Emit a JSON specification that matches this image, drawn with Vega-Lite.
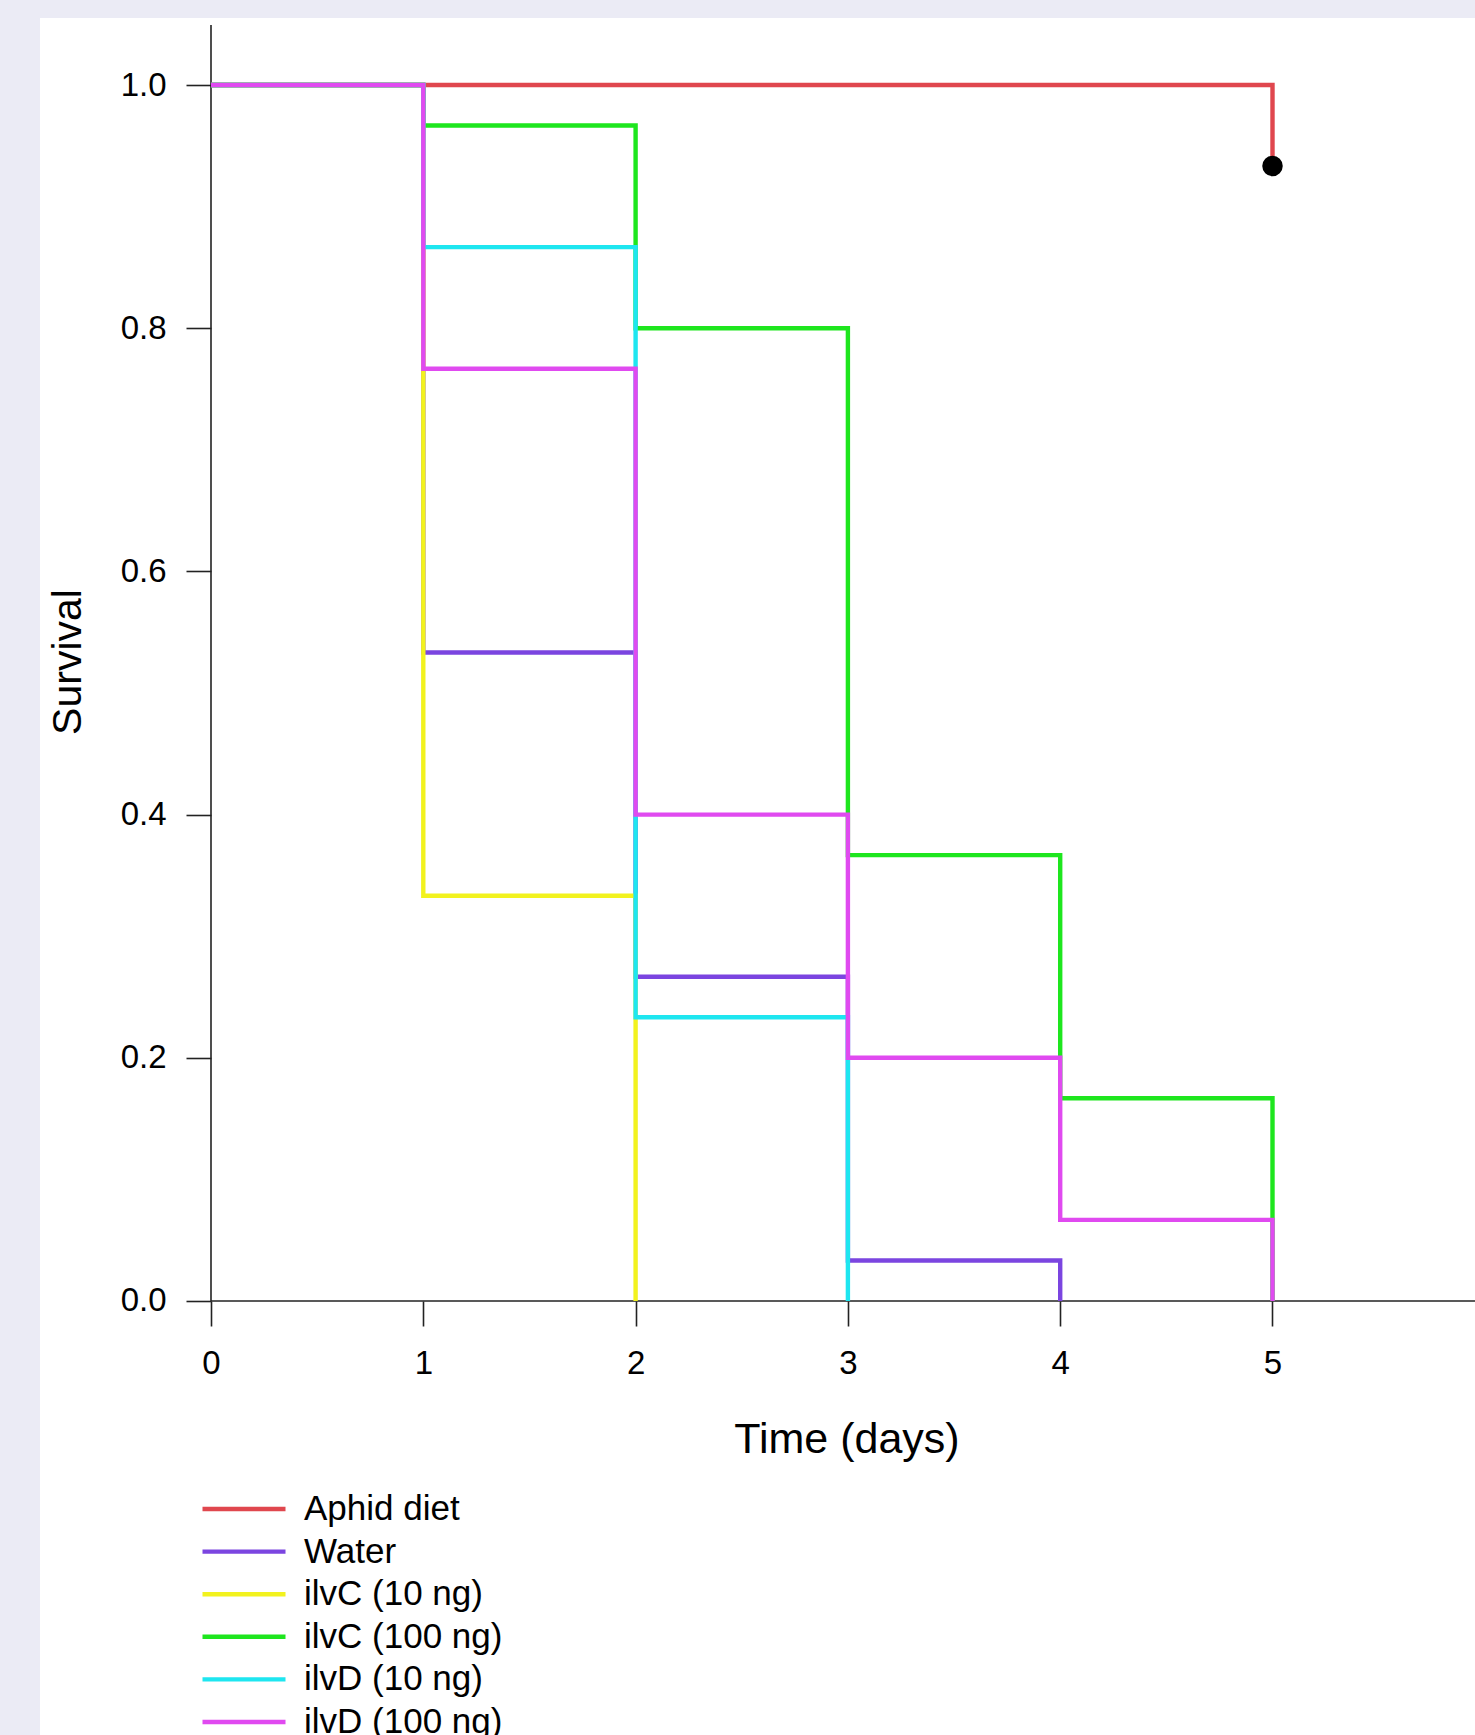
{
  "$schema": "https://vega.github.io/schema/vega-lite/v6.json",
  "autosize": "none",
  "width": 1435,
  "height": 1717,
  "padding": {"left": 40, "top": 18, "right": 0, "bottom": 0},
  "background": "#EBEBF5",
  "config": {
    "view": {"fill": "#FFFFFF", "stroke": null},
    "font": "Liberation Sans"
  },
  "datasets": {
    "curves": [
      {"group": "Aphid diet", "t": 0, "s": 1.0},
      {"group": "Aphid diet", "t": 5, "s": 0.9333},
      {"group": "Water", "t": 0, "s": 1.0},
      {"group": "Water", "t": 1, "s": 0.5333},
      {"group": "Water", "t": 2, "s": 0.2667},
      {"group": "Water", "t": 3, "s": 0.0333},
      {"group": "Water", "t": 4, "s": 0.0},
      {"group": "ilvC (10 ng)", "t": 0, "s": 1.0},
      {"group": "ilvC (10 ng)", "t": 1, "s": 0.3333},
      {"group": "ilvC (10 ng)", "t": 2, "s": 0.0},
      {"group": "ilvC (100 ng)", "t": 0, "s": 1.0},
      {"group": "ilvC (100 ng)", "t": 1, "s": 0.9667},
      {"group": "ilvC (100 ng)", "t": 2, "s": 0.8},
      {"group": "ilvC (100 ng)", "t": 3, "s": 0.3667},
      {"group": "ilvC (100 ng)", "t": 4, "s": 0.1667},
      {"group": "ilvC (100 ng)", "t": 5, "s": 0.0},
      {"group": "ilvD (10 ng)", "t": 0, "s": 1.0},
      {"group": "ilvD (10 ng)", "t": 1, "s": 0.8667},
      {"group": "ilvD (10 ng)", "t": 2, "s": 0.2333},
      {"group": "ilvD (10 ng)", "t": 3, "s": 0.0},
      {"group": "ilvD (100 ng)", "t": 0, "s": 1.0},
      {"group": "ilvD (100 ng)", "t": 1, "s": 0.7667},
      {"group": "ilvD (100 ng)", "t": 2, "s": 0.4},
      {"group": "ilvD (100 ng)", "t": 3, "s": 0.2},
      {"group": "ilvD (100 ng)", "t": 4, "s": 0.0667},
      {"group": "ilvD (100 ng)", "t": 5, "s": 0.0}
    ],
    "axislines": [
      {"x": 0, "x2": 0, "y": 0, "y2": 1.0493},
      {"x": 0, "x2": 5.9538, "y": 0, "y2": 0}
    ],
    "censor": [
      {"t": 5, "s": 0.9333}
    ]
  },
  "layer": [
    {
      "data": {"name": "axislines"},
      "mark": {"type": "rule", "color": "#222222", "strokeWidth": 1.6},
      "encoding": {
        "x": {
          "field": "x", "type": "quantitative",
          "scale": {"domain": [-0.80546, 5.95384], "nice": false, "zero": false},
          "axis": {
            "title": "Time (days)",
            "values": [0, 1, 2, 3, 4, 5],
            "format": "d",
            "grid": false,
            "domain": false,
            "offset": -434,
            "tickSize": 25,
            "tickWidth": 1.6,
            "tickColor": "#222222",
            "labelFontSize": 33,
            "labelColor": "#000000",
            "labelPadding": 21,
            "labelFont": "Liberation Sans",
            "titleFont": "Liberation Sans",
            "titleFontSize": 43,
            "titleFontWeight": "normal",
            "titleColor": "#000000",
            "titleAlign": "center",
            "titleBaseline": "alphabetic",
            "titleX": 806.5,
            "titleY": 151
          }
        },
        "x2": {"field": "x2"},
        "y": {
          "field": "y", "type": "quantitative",
          "scale": {"domain": [-0.35691, 1.0551], "nice": false, "zero": false},
          "axis": {
            "title": "Survival",
            "values": [0, 0.2, 0.4, 0.6, 0.8, 1.0],
            "format": ".1f",
            "grid": false,
            "domain": false,
            "offset": -171,
            "tickSize": 25,
            "tickWidth": 1.6,
            "tickColor": "#222222",
            "labelFontSize": 33,
            "labelColor": "#000000",
            "labelPadding": 20,
            "labelFont": "Liberation Sans",
            "titleFont": "Liberation Sans",
            "titleFontSize": 41,
            "titleFontWeight": "normal",
            "titleColor": "#000000",
            "titleAngle": -90,
            "titleAlign": "center",
            "titleBaseline": "alphabetic",
            "titleX": -131,
            "titleY": 643.5
          }
        },
        "y2": {"field": "y2"}
      }
    },
    {
      "data": {"name": "curves"},
      "mark": {"type": "line", "interpolate": "step-after", "strokeWidth": 4.4, "clip": false},
      "encoding": {
        "x": {"field": "t", "type": "quantitative"},
        "y": {"field": "s", "type": "quantitative"},
        "color": {
          "field": "group", "type": "nominal",
          "scale": {
            "domain": ["Aphid diet", "Water", "ilvC (10 ng)", "ilvC (100 ng)", "ilvD (10 ng)", "ilvD (100 ng)"],
            "range": ["#E0474E", "#7B45E0", "#F2F21E", "#1EE61E", "#1EE6F0", "#E04AF0"]
          },
          "legend": {
            "title": null,
            "orient": "none",
            "legendX": 160,
            "legendY": 1473,
            "padding": 0,
            "symbolType": "stroke",
            "symbolSize": 6889,
            "symbolStrokeWidth": 4.4,
            "symbolOffset": 0,
            "labelOffset": 16,
            "labelFont": "Liberation Sans",
            "labelFontSize": 35,
            "labelColor": "#000000",
            "labelLimit": 0,
            "clipHeight": 36,
            "rowPadding": 6.6
          }
        }
      }
    },
    {
      "data": {"name": "censor"},
      "mark": {"type": "point", "filled": true, "color": "#000000", "opacity": 1, "size": 420},
      "encoding": {
        "x": {"field": "t", "type": "quantitative"},
        "y": {"field": "s", "type": "quantitative"}
      }
    }
  ]
}
